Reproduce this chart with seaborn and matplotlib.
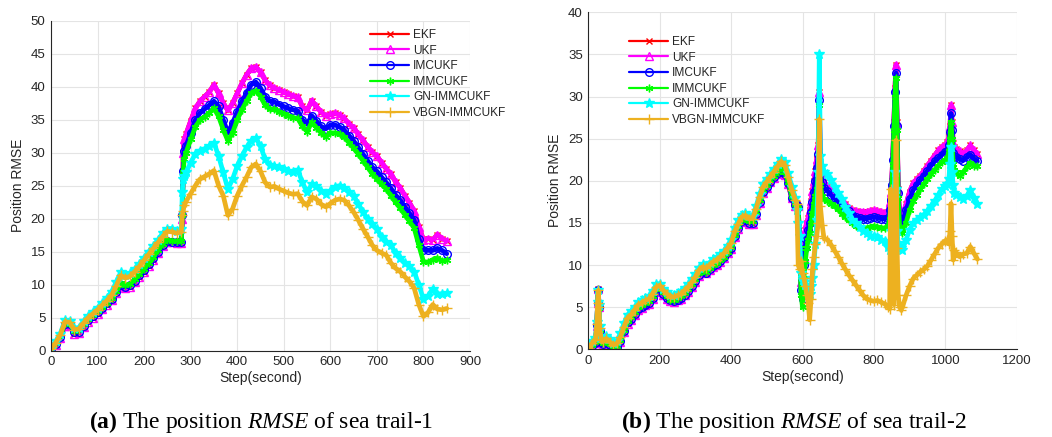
import matplotlib
matplotlib.use("Agg")
import matplotlib.pyplot as plt
import seaborn as sns

# ---------------- sea trail-1 ----------------
steps_trail1 = list(range(0, 281, 10)) + [282, 284, 286] + list(range(290, 851, 10))

ukf_trail1 = [0.0, 0.8, 1.9, 3.8, 3.8, 2.6, 2.7, 3.6, 4.4, 5.0, 5.6, 6.3, 7.0, 7.7, 8.7, 9.8, 9.5, 9.7, 10.4, 11.2,
              12.0, 12.9, 13.8, 14.8, 15.8, 16.4, 16.4, 16.3, 16.3,
              20.0, 30.0, 32.0,
              32.8, 34.8, 36.7, 37.8, 38.5, 39.2, 40.3, 39.0, 37.5, 36.4,
              37.5, 39.0, 40.5, 41.8, 42.8, 43.0, 42.2, 41.0, 40.2, 39.8,
              39.5, 39.2, 38.9, 38.6, 38.4, 37.0, 36.4, 37.9, 37.0, 36.2,
              35.6, 35.8, 36.0, 35.7, 35.2, 34.4, 33.8, 32.8, 31.9, 30.9,
              30.1, 29.5, 28.5, 27.6, 26.8, 25.6, 24.7, 23.5, 22.4, 21.2,
              18.8, 16.8, 17.0, 16.8, 17.6, 17.0, 16.6]
# EKF lies on top of UKF over the whole run
ekf_trail1 = list(ukf_trail1)
imcukf_trail1 = [0.0, 1.0, 2.1, 4.0, 4.0, 2.8, 2.9, 3.8, 4.6, 5.2, 5.8, 6.5, 7.2, 7.9, 8.9, 10.0, 9.7, 9.9, 10.6, 11.4,
                 12.2, 13.1, 14.0, 15.0, 16.0, 16.6, 16.5, 16.4, 16.5,
                 20.6, 27.2, 30.2,
                 31.0, 33.0, 34.9, 36.0, 36.6, 37.2, 37.8, 37.0, 35.0, 33.0,
                 34.5, 36.2, 37.8, 39.0, 40.3, 40.7, 39.8, 38.5, 37.8, 37.7,
                 37.3, 37.0, 36.7, 36.5, 36.3, 35.0, 34.3, 35.6, 34.8, 34.0,
                 33.6, 34.2, 34.2, 33.9, 33.4, 32.6, 31.8, 30.8, 29.8, 28.8,
                 27.8, 27.2, 26.3, 25.5, 24.6, 23.6, 22.8, 21.8, 20.8, 19.8,
                 17.0, 15.3, 15.2, 15.2, 15.5, 15.2, 14.7]
immcukf_trail1 = [0.1, 1.1, 2.2, 4.2, 4.1, 3.0, 3.1, 4.0, 4.8, 5.4, 6.0, 6.6, 7.3, 8.0, 9.0, 10.2, 9.9, 10.1, 10.8, 11.6,
                  12.4, 13.3, 14.2, 15.2, 16.2, 16.8, 16.6, 16.6, 16.6,
                  20.6, 27.0, 29.0,
                  30.0, 32.0, 33.9, 35.0, 35.4, 36.0, 36.7, 35.5, 33.5, 31.8,
                  33.0, 35.0, 36.5, 37.8, 39.0, 39.4, 38.5, 37.2, 36.6, 36.6,
                  36.2, 35.9, 35.6, 35.3, 35.2, 34.0, 33.2, 34.6, 33.8, 33.0,
                  32.4, 33.0, 33.0, 32.8, 32.4, 31.5, 30.7, 29.8, 28.8, 27.8,
                  26.8, 26.0, 25.2, 24.5, 23.5, 22.5, 21.6, 20.6, 19.6, 18.6,
                  16.0, 13.5, 13.4, 13.8, 14.0, 13.6, 13.7]
gn_trail1 = [0.3, 1.4, 2.6, 4.6, 4.5, 3.4, 3.5, 4.5, 5.3, 5.9, 6.5, 7.2, 8.0, 8.9, 10.4, 11.9, 11.5, 11.7, 12.4, 13.2,
             14.1, 15.0, 15.9, 16.8, 17.8, 18.5, 18.5, 18.2, 18.4,
             24.0, 26.0, 26.5,
             27.0, 28.5, 29.8, 30.3, 30.6, 31.0, 31.5, 29.5, 27.0, 24.5,
             26.0, 28.0, 29.5, 30.8, 31.8, 32.2, 31.0, 29.0, 28.2, 28.0,
             27.8, 27.6, 27.3, 27.0, 27.4, 25.5, 24.0, 25.2, 25.0, 24.2,
             23.8, 24.2, 24.8, 25.0, 24.6, 24.0, 23.4, 22.3, 21.0, 20.0,
             19.2, 18.4, 17.3, 16.5, 16.0, 14.8, 14.0, 13.3, 12.8, 12.0,
             10.0, 7.8, 8.3, 9.4, 8.6, 8.6, 8.7]
vbgn_trail1 = [0.2, 1.2, 2.4, 4.4, 4.3, 3.2, 3.3, 4.2, 5.0, 5.6, 6.2, 6.9, 7.6, 8.4, 9.8, 11.4, 11.0, 11.3, 12.0, 12.8,
               13.7, 14.6, 15.5, 16.4, 17.3, 18.1, 18.0, 17.8, 18.0,
               20.5, 21.2, 22.0,
               22.6, 23.8, 25.0, 26.0, 26.4, 26.8, 27.3, 25.0, 23.5, 20.5,
               21.5, 23.5, 25.0, 26.3, 27.8, 28.3, 27.2, 25.5, 24.8, 24.9,
               24.5, 24.2, 23.9, 23.7, 23.8, 22.6, 22.0, 23.3, 23.0, 22.2,
               21.8, 22.3, 22.8, 23.0, 22.8, 22.0, 21.0, 19.8, 18.5, 17.3,
               16.0, 15.2, 14.8, 14.5, 13.3, 12.5, 12.0, 11.2, 10.5, 9.5,
               7.0, 5.2, 5.8, 7.0, 6.3, 6.2, 6.4]

# ---------------- sea trail-2 ----------------
steps_trail2 = ([0, 10, 20, 24, 26, 28, 30, 32, 36, 40] + list(range(50, 581, 10))
                + [584, 588, 592, 596, 600, 604, 608, 612, 616, 620, 624, 628, 632, 636, 640, 644, 647, 650, 655, 660]
                + list(range(670, 841, 10))
                + [844, 847, 850, 853, 856, 859, 862, 865, 868, 872, 876, 880]
                + list(range(890, 1001, 10))
                + [1005, 1010, 1013, 1016, 1019, 1022, 1025]
                + list(range(1030, 1091, 10)))

ukf_trail2 = [0.0, 0.3, 0.7, 2.8, 5.5, 7.1, 5.0, 2.1, 0.8, 0.5,
              0.8, 0.4, 0.0, 0.2, 0.9, 2.0, 3.0, 3.5, 4.1, 4.7, 4.9, 5.2, 5.4, 6.0, 6.8,
              7.1, 6.5, 6.0, 5.7, 5.6, 5.8, 6.0, 6.4, 6.8, 7.4, 8.0, 8.7, 9.2, 9.0, 9.4,
              9.8, 10.0, 10.4, 10.8, 11.4, 11.9, 13.3, 14.3, 15.1, 15.3, 14.9, 14.9, 16.0, 17.4, 18.6,
              19.2, 19.8, 20.3, 20.8, 21.1, 20.7, 19.6, 17.9, 17.0,
              17.2, 17.0, 13.0, 8.0, 6.5, 11.0, 14.2, 15.0, 15.6, 16.5, 17.6, 18.8, 20.0, 21.2, 22.6,
              24.3, 30.5, 22.0, 20.5, 19.8,
              19.4, 18.9, 18.5, 18.2, 17.7, 17.3, 16.8, 16.5, 16.4, 16.3, 16.3, 16.3, 16.4, 16.5,
              16.4, 16.3, 16.2, 16.3,
              17.5, 18.7, 20.0, 23.0, 27.0, 31.0, 33.8, 27.0, 19.0, 16.0, 15.6, 15.3,
              17.2, 18.7, 19.7, 20.2, 20.6, 21.2, 21.8, 22.4, 23.0, 23.6, 24.0, 24.3,
              24.6, 25.2, 26.5, 29.0, 27.0, 24.5, 24.0,
              23.8, 23.5, 23.2, 23.6, 24.2, 23.6, 23.2]
ekf_trail2 = list(ukf_trail2)
imcukf_trail2 = [0.0, 0.4, 0.8, 2.9, 5.5, 7.0, 5.0, 2.2, 0.9, 0.6,
                 0.9, 0.5, 0.1, 0.3, 1.0, 2.2, 3.2, 3.6, 4.2, 4.8, 5.0, 5.3, 5.5, 6.1, 6.9,
                 7.2, 6.6, 6.1, 5.8, 5.7, 5.9, 6.1, 6.5, 6.9, 7.5, 8.1, 8.8, 9.3, 9.1, 9.5,
                 9.9, 10.1, 10.5, 10.9, 11.5, 12.0, 13.4, 14.4, 15.2, 15.4, 15.0, 15.0, 16.1, 17.5, 18.7,
                 19.3, 19.9, 20.4, 20.9, 21.2, 20.8, 19.7, 18.0, 17.1,
                 17.1, 16.9, 12.5, 7.0, 6.0, 10.0, 12.0, 13.2, 14.2, 15.0, 16.3, 17.5, 18.7, 20.0, 21.5,
                 23.2, 29.6, 21.0, 19.8, 19.2,
                 18.8, 18.3, 17.9, 17.5, 17.1, 16.8, 16.4, 16.0, 15.7, 15.6, 15.5, 15.5, 15.6, 15.7,
                 15.6, 15.5, 15.5, 15.6,
                 16.5, 17.7, 19.5, 22.5, 26.5, 30.5, 32.8, 26.5, 18.5, 15.5, 15.2, 15.1,
                 16.5, 17.8, 18.9, 19.5, 20.1, 20.6, 21.2, 21.8, 22.3, 22.7, 23.1, 23.4,
                 23.5, 24.3, 25.8, 28.0, 26.0, 23.3, 23.0,
                 22.8, 22.6, 22.4, 22.8, 23.1, 22.6, 22.3]
immcukf_trail2 = [0.0, 0.5, 0.9, 2.9, 5.4, 6.9, 4.9, 2.3, 1.0, 0.7,
                  1.0, 0.6, 0.2, 0.4, 1.1, 2.3, 3.3, 3.8, 4.4, 5.0, 5.2, 5.5, 5.7, 6.3, 7.1,
                  7.3, 6.8, 6.3, 5.9, 5.9, 6.1, 6.3, 6.7, 7.1, 7.7, 8.3, 9.0, 9.4, 9.2, 9.6,
                  10.0, 10.2, 10.6, 11.0, 11.6, 12.2, 13.6, 14.6, 15.4, 15.6, 15.2, 15.2, 16.3, 17.7, 18.9,
                  19.5, 20.1, 20.6, 21.1, 21.5, 21.1, 19.9, 18.2, 17.2,
                  17.0, 16.8, 12.0, 6.5, 5.0, 8.5, 10.5, 12.0, 13.0, 13.8, 15.0, 16.2, 17.3, 18.2, 19.0,
                  21.0, 29.0, 19.5, 18.2, 17.8,
                  17.6, 17.3, 17.0, 16.6, 16.1, 15.7, 15.3, 15.0, 14.6, 14.5, 14.4, 14.4, 14.5, 14.6,
                  14.5, 14.4, 14.4, 14.6,
                  15.5, 17.0, 19.0, 22.0, 26.0, 30.0, 32.2, 26.0, 18.0, 14.5, 14.0, 13.8,
                  15.0, 16.5, 17.6, 18.3, 19.0, 19.6, 20.2, 20.8, 21.3, 21.8, 22.2, 22.5,
                  22.7, 23.5, 25.0, 27.0, 25.0, 22.0, 21.3,
                  21.0, 20.6, 21.0, 21.6, 22.1, 21.8, 21.7]
gn_trail2 = [0.3, 1.0, 1.4, 3.2, 5.6, 7.0, 5.2, 2.8, 1.5, 1.2,
             1.6, 1.2, 0.8, 1.0, 1.9, 3.1, 4.1, 4.5, 5.0, 5.6, 5.8, 6.1, 6.3, 6.9, 7.7,
             7.8, 7.2, 6.8, 6.4, 6.5, 6.7, 6.9, 7.3, 7.7, 8.3, 8.9, 9.7, 10.1, 9.9, 10.3,
             10.7, 10.9, 11.3, 11.7, 12.3, 13.0, 14.4, 15.3, 16.0, 16.2, 15.8, 15.8, 17.0, 18.4, 19.6,
             20.2, 20.8, 21.4, 22.0, 22.6, 22.2, 20.9, 19.3, 18.0,
             16.5, 15.0, 13.5, 9.0, 8.2, 8.0, 7.6, 7.2, 7.0, 6.6, 7.5, 8.5, 10.0, 12.5, 15.3,
             21.0, 35.0, 23.0, 21.8, 21.0,
             20.8, 20.1, 19.3, 18.6, 17.8, 16.9, 16.2, 15.4, 15.0, 14.5, 14.0, 13.8, 13.5, 13.4,
             13.3, 13.0, 12.8, 12.2,
             11.8, 14.0, 12.0, 15.0, 18.0, 21.0, 19.0, 14.0, 12.6, 12.3, 12.0, 11.8,
             13.0, 14.2, 15.0, 15.4, 15.7, 16.0, 16.4, 17.0, 17.6, 18.3, 19.0, 19.4,
             19.6, 20.2, 22.0, 24.0, 21.0, 19.5, 18.5,
             18.3, 18.1, 17.8, 18.2, 18.9, 18.0, 17.3]
vbgn_trail2 = [0.1, 0.7, 1.1, 3.0, 5.5, 7.0, 5.0, 2.5, 1.2, 0.9,
               1.3, 0.9, 0.5, 0.7, 1.5, 2.7, 3.7, 4.1, 4.7, 5.3, 5.5, 5.8, 6.0, 6.6, 7.4,
               7.6, 7.0, 6.6, 6.2, 6.2, 6.4, 6.6, 7.0, 7.4, 8.0, 8.6, 9.4, 9.8, 9.6, 10.0,
               10.4, 10.6, 11.0, 11.4, 12.0, 12.6, 14.0, 14.9, 15.7, 15.9, 15.5, 15.5, 16.7, 18.1, 19.3,
               19.9, 20.5, 21.1, 21.7, 22.3, 21.9, 20.5, 18.9, 17.7,
               17.3, 10.0, 9.5, 10.5, 9.0, 8.5, 7.5, 6.5, 5.5, 3.5, 6.0, 9.5, 11.0, 12.5, 13.5,
               15.0, 27.3, 17.0, 14.8, 13.2,
               13.0, 12.4, 11.7, 11.0, 10.2, 9.5, 8.8, 8.2, 7.6, 7.0, 6.4, 6.0, 5.8, 5.7,
               5.8, 5.6, 5.4, 5.0,
               4.8, 19.0, 12.0, 7.0, 5.3, 12.0, 24.8, 12.0, 6.5, 5.0, 4.7, 5.0,
               6.4, 7.5, 8.4, 8.8, 9.2, 9.5, 9.9, 10.6, 11.3, 12.0, 12.5, 12.9,
               13.0, 12.5, 14.0, 17.3, 13.5, 10.6, 11.8,
               11.5, 11.0, 11.3, 11.4, 12.2, 11.4, 10.7]

method_names = ["EKF", "UKF", "IMCUKF", "IMMCUKF", "GN-IMMCUKF", "VBGN-IMMCUKF"]
method_colors = ["#ff0000", "#ff00ff", "#0000ff", "#00ff00", "#00ffff", "#edb120"]
method_markers = ["x", "^", "o", (6, 2, 0), "*", "+"]
marker_sizes = [5.0, 5.5, 5.5, 5.5, 7.0, 6.5]
marker_faces = ["#ff0000", "none", "none", "#00ff00", "#00ffff", "#edb120"]

sns.set_style("white")
plt.rcParams["font.family"] = ["Liberation Sans", "DejaVu Sans"]
plt.rcParams["mathtext.fontset"] = "custom"
plt.rcParams["mathtext.rm"] = "Liberation Serif"
plt.rcParams["mathtext.it"] = "Liberation Serif:italic"
plt.rcParams["mathtext.bf"] = "Liberation Serif:bold"

AX_COLOR = "#262626"

fig = plt.figure(figsize=(10.52, 4.37), dpi=100)
W, H = 1052.0, 437.0


def px_axes(x0, x1, ytop, ybot):
    return fig.add_axes([x0 / W, 1 - ybot / H, (x1 - x0) / W, (ybot - ytop) / H])


def draw_panel(ax, steps, series, xmax, xstep, ymax, legend_xy):
    for name, color, marker, ms, mfc, values in zip(method_names, method_colors, method_markers,
                                                     marker_sizes, marker_faces, series):
        # dense per-step markers make a solid band around each curve
        sns.lineplot(x=steps, y=values, ax=ax, color=color, linewidth=3.4,
                     solid_joinstyle="round", solid_capstyle="round",
                     estimator=None, sort=False, legend=False)
        sns.lineplot(x=steps, y=values, ax=ax, color=color, marker=marker, markersize=ms,
                     markerfacecolor=mfc, markeredgecolor=color, markeredgewidth=1.0,
                     linewidth=1.0, label=name, estimator=None, sort=False)
    ax.set_xlim(0, xmax)
    ax.set_ylim(0, ymax)
    ax.set_xticks(range(0, xmax + 1, xstep))
    ax.set_yticks(range(0, ymax + 1, 5))
    ax.grid(True, color="#e4e4e4", linewidth=0.8)
    ax.set_axisbelow(True)
    for side in ("top", "right"):
        ax.spines[side].set_visible(False)
    for side in ("left", "bottom"):
        ax.spines[side].set_color(AX_COLOR)
        ax.spines[side].set_linewidth(0.8)
    ax.tick_params(direction="in", length=4, width=0.8, colors=AX_COLOR, labelsize=9.5, pad=4)
    ax.set_xlabel("Step(second)", fontsize=10, color=AX_COLOR, labelpad=2)
    ax.set_ylabel("Position RMSE", fontsize=10, color=AX_COLOR, labelpad=4)
    handles, labels = ax.get_legend_handles_labels()
    leg = ax.legend(handles, labels, loc="upper left",
                    bbox_to_anchor=(legend_xy[0] / W, 1 - legend_xy[1] / H),
                    bbox_transform=fig.transFigure, frameon=False, fontsize=8.6,
                    handlelength=3.3, handletextpad=0.3, labelspacing=0.3,
                    borderpad=0, borderaxespad=0)
    for line in leg.get_lines():
        line.set_linewidth(1.6)


ax1 = px_axes(51, 470, 20.7, 350.7)
draw_panel(ax1, steps_trail1,
           [ekf_trail1, ukf_trail1, imcukf_trail1, immcukf_trail1, gn_trail1, vbgn_trail1],
           900, 100, 50, (370, 29))

ax2 = px_axes(588.3, 1016.7, 12.3, 349.3)
draw_panel(ax2, steps_trail2,
           [ekf_trail2, ukf_trail2, imcukf_trail2, immcukf_trail2, gn_trail2, vbgn_trail2],
           1200, 200, 40, (629, 36))

caption_kw = dict(ha="center", va="baseline", fontsize=17, family="Liberation Serif", color="black")
fig.text(260.7 / W, 1 - 428 / H, r"$\mathbf{(a)}$ The position $\mathit{RMSE}$ of sea trail-1", **caption_kw)
fig.text(794 / W, 1 - 428 / H, r"$\mathbf{(b)}$ The position $\mathit{RMSE}$ of sea trail-2", **caption_kw)

fig.savefig("out.png", dpi=100)
